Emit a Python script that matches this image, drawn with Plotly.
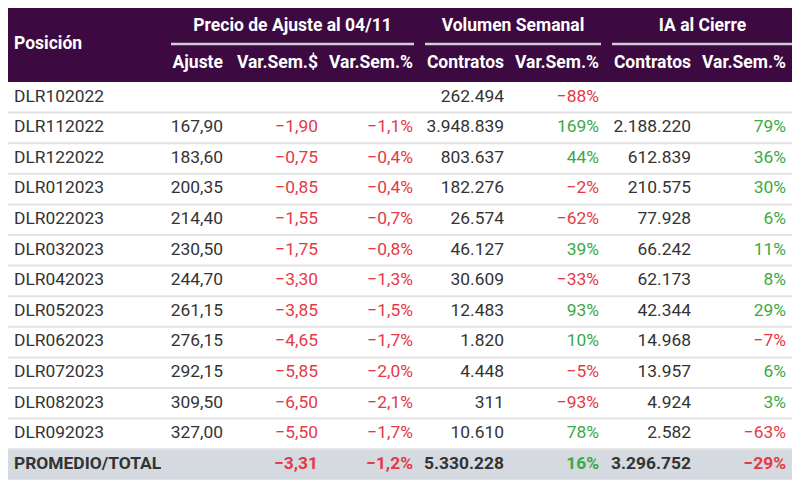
import plotly.graph_objects as go

# datos de la tabla
posicion = ["DLR102022", "DLR112022", "DLR122022", "DLR012023", "DLR022023", "DLR032023",
            "DLR042023", "DLR052023", "DLR062023", "DLR072023", "DLR082023", "DLR092023"]
ajuste = [None, 167.90, 183.60, 200.35, 214.40, 230.50, 244.70, 261.15, 276.15, 292.15, 309.50, 327.00]
var_sem_usd = [None, -1.90, -0.75, -0.85, -1.55, -1.75, -3.30, -3.85, -4.65, -5.85, -6.50, -5.50]
var_sem_pct = [None, -1.1, -0.4, -0.4, -0.7, -0.8, -1.3, -1.5, -1.7, -2.0, -2.1, -1.7]
vol_contratos = [262494, 3948839, 803637, 182276, 26574, 46127, 30609, 12483, 1820, 4448, 311, 10610]
vol_var = [-88, 169, 44, -2, -62, 39, -33, 93, 10, -5, -93, 78]
ia_contratos = [None, 2188220, 612839, 210575, 77928, 66242, 62173, 42344, 14968, 13957, 4924, 2582]
ia_var = [None, 79, 36, 30, 6, 11, 8, 29, -7, 6, 3, -63]

total_label = "PROMEDIO/TOTAL"
total_vals = [None, -3.31, -1.2, 5330228, 16, 3296752, -29]

grupos = ["Precio de Ajuste al 04/11", "Volumen Semanal", "IA al Cierre"]
subcols = ["Ajuste", "Var.Sem.$", "Var.Sem.%", "Contratos", "Var.Sem.%", "Contratos", "Var.Sem.%"]

# estilos
PURPLE = "#3c0940"
RED = "#e53945"
GREEN = "#3aaa46"
TXT = "#333333"
FONT = "Roboto, Arial, sans-serif"

W, H = 800, 487
OFF = 8   # margen del body de la página
left, right = 7, 793
head_top, head_mid, head_bot = 8, 44, 82
row_h = 30.6
col_right = [223, 318, 413, 504, 599, 691, 786]   # borde derecho del texto por columna
grp_span = [(171, 414), (425, 601), (612, 793)]


def num(v, dec=2):
    s = f"{abs(v):,.{dec}f}".replace(",", "X").replace(".", ",").replace("X", ".")
    return ("−" if v < 0 else "") + s


def pct(v, dec=0):
    return num(v, dec) + "%"


def color(v):
    return RED if v < 0 else GREEN


columnas = [ajuste, var_sem_usd, var_sem_pct, vol_contratos, vol_var, ia_contratos, ia_var]
fmts = [lambda v: num(v, 2), lambda v: num(v, 2), lambda v: pct(v, 1),
        lambda v: num(v, 0), lambda v: pct(v, 0), lambda v: num(v, 0), lambda v: pct(v, 0)]
signed = [False, True, True, False, True, False, True]

n = len(posicion)
row_y = [head_bot + row_h * (i + 0.5) for i in range(n + 1)]

fig = go.Figure()
shapes = []

# fondo del encabezado
shapes.append(dict(type="rect", x0=left, x1=right, y0=head_top, y1=head_bot,
                   fillcolor=PURPLE, line_width=0, layer="below"))
# fila total
shapes.append(dict(type="rect", x0=left, x1=right, y0=head_bot + row_h * n, y1=head_bot + row_h * (n + 1),
                   fillcolor="#d4dadf", line_width=0, layer="below"))
# separadores de filas
for i in range(1, n + 1):
    y = head_bot + row_h * i
    shapes.append(dict(type="line", x0=left, x1=right, y0=y, y1=y,
                       line=dict(color="#e2e2e2", width=2), layer="below"))
# subrayado de grupos
for x0, x1 in grp_span:
    shapes.append(dict(type="line", x0=x0, x1=x1, y0=head_mid, y1=head_mid,
                       line=dict(color="#d3ced5", width=2.5)))

HF = dict(color="white", size=17.5, family=FONT)

# encabezado
fig.add_trace(go.Scatter(x=[14], y=[(head_top + head_bot) / 2], mode="text",
                         text=["<b>Posición</b>"], textposition="middle right",
                         textfont=HF, hoverinfo="skip"))
fig.add_trace(go.Scatter(x=[(a + b) / 2 for a, b in grp_span], y=[(head_top + head_mid) / 2 + 1] * 3,
                         mode="text", text=[f"<b>{g}</b>" for g in grupos], textposition="middle center",
                         textfont=HF, hoverinfo="skip"))
fig.add_trace(go.Scatter(x=col_right, y=[(head_mid + head_bot) / 2 + 1] * len(subcols), mode="text",
                         text=[f"<b>{c}</b>" for c in subcols], textposition="middle left",
                         textfont=HF, hoverinfo="skip"))

# columna posición
fig.add_trace(go.Scatter(x=[14] * (n + 1), y=row_y, mode="text",
                         text=posicion + [f"<b>{total_label}</b>"], textposition="middle right",
                         textfont=dict(color=TXT, size=17.4, family=FONT), hoverinfo="skip"))

# columnas numéricas
for j, col in enumerate(columnas):
    vals = list(col) + [total_vals[j]]
    xs, ys, txt, cols = [], [], [], []
    for i, v in enumerate(vals):
        if v is None:
            continue
        s = fmts[j](v)
        if i == n:
            s = f"<b>{s}</b>"
        xs.append(col_right[j])
        ys.append(row_y[i])
        txt.append(s)
        cols.append(color(v) if signed[j] else TXT)
    fig.add_trace(go.Scatter(x=xs, y=ys, mode="text", text=txt, textposition="middle left",
                             textfont=dict(color=cols, size=17.4, family=FONT), hoverinfo="skip"))

fig.update_layout(
    width=W, height=H,
    margin=dict(l=0, r=0, t=0, b=0),
    paper_bgcolor="white", plot_bgcolor="white",
    showlegend=False,
    shapes=shapes,
    xaxis=dict(range=[OFF, W + OFF], visible=False, fixedrange=True),
    yaxis=dict(range=[H + OFF, OFF], visible=False, fixedrange=True),
)

fig.write_html("out.html")
